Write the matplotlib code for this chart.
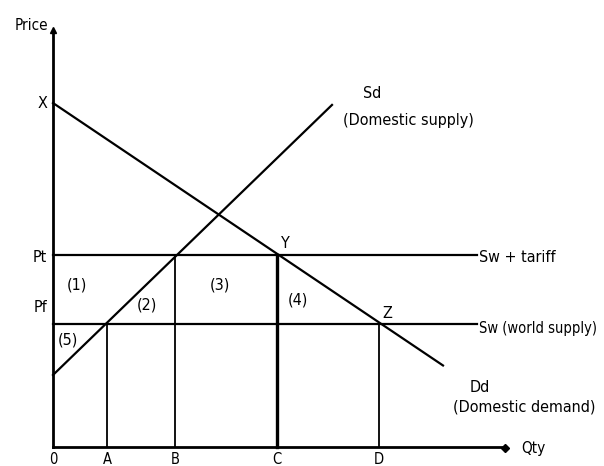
import matplotlib.pyplot as plt

# data in chart units (quantity, price); origin at (0, 0)
q_marks = ['0', 'A', 'B', 'C', 'D']
q_vals = [0, 54, 122, 224, 326]
p_x = 344          # demand intercept X
p_tariff = 192     # Pt
p_world = 123      # Pf
sup_intercept = 72
sup_slope = 0.968
dem_slope = -0.673
sup_end_q = 279
dem_end_q = 390

area_labels = ['(1)', '(2)', '(3)', '(4)', '(5)']
area_pos = [(24, 162), (94, 142), (167, 162), (245, 147), (15, 107)]

plt.rcParams['font.family'] = ['DejaVu Sans']
plt.rcParams['font.stretch'] = 'condensed'

fig = plt.figure(figsize=(6.04, 4.66), dpi=100)
ax = fig.add_axes([0, 0, 1, 1])
ax.set_xlim(-53, 551)
ax.set_ylim(-19, 447)
ax.axis('off')

fs = 11.5
lw = 1.6

# axes with arrows
ax.plot([0, 0], [0, 415], color='black', lw=2)
ax.plot([0, 452], [0, 0], color='black', lw=2)
ax.plot(0, 417, marker='^', color='black', ms=4)
ax.plot(452, -1, marker='D', color='black', ms=4)
ax.text(-5, 421, 'Price', ha='right', va='center', fontsize=fs - 0.5)
ax.text(468, -1, 'Qty', ha='left', va='center', fontsize=fs - 0.5)

# supply and demand
ax.plot([0, sup_end_q], [sup_intercept, sup_intercept + sup_slope * sup_end_q], color='black', lw=lw)
ax.plot([0, dem_end_q], [p_x, p_x + dem_slope * dem_end_q], color='black', lw=lw)

# price lines
ax.plot([0, 424], [p_tariff, p_tariff], color='black', lw=lw)
ax.plot([0, 424], [p_world, p_world], color='black', lw=lw)

# vertical quantity lines
a, b, c, d = q_vals[1:]
ax.plot([a, a], [0, p_world], color='black', lw=1.3)
ax.plot([b, b], [0, p_tariff], color='black', lw=1.3)
ax.plot([c, c], [0, p_tariff], color='black', lw=2.4)
ax.plot([d, d], [0, p_world], color='black', lw=1.3)

# tick labels under the axis
for lab, q in zip(q_marks, q_vals):
    ax.text(q, -5, lab, ha='center', va='top', fontsize=fs - 1)

# price labels
ax.text(-6, p_x, 'X', ha='right', va='center', fontsize=fs)
ax.text(-6, p_tariff - 2, 'Pt', ha='right', va='center', fontsize=fs)
ax.text(-6, p_world + 16, 'Pf', ha='right', va='center', fontsize=fs)

for lab, (x, y) in zip(area_labels, area_pos):
    ax.text(x, y, lab, ha='center', va='center', fontsize=fs)

ax.text(c + 8, p_tariff + 12, 'Y', ha='center', va='center', fontsize=fs)
ax.text(d + 8, p_world + 11, 'Z', ha='center', va='center', fontsize=fs)

# curve labels
ax.text(319, 354, 'Sd', ha='center', va='center', fontsize=fs)
ax.text(290, 327, '(Domestic supply)', ha='left', va='center', fontsize=fs)
ax.text(426, p_tariff - 3, 'Sw + tariff', ha='left', va='center', fontsize=fs)
ax.text(426, p_world - 4, 'Sw (world supply)', ha='left', va='center', fontsize=10.5)
ax.text(427, 59, 'Dd', ha='center', va='center', fontsize=fs)
ax.text(400, 40, '(Domestic demand)', ha='left', va='center', fontsize=fs)

fig.savefig('out.png', dpi=100)
